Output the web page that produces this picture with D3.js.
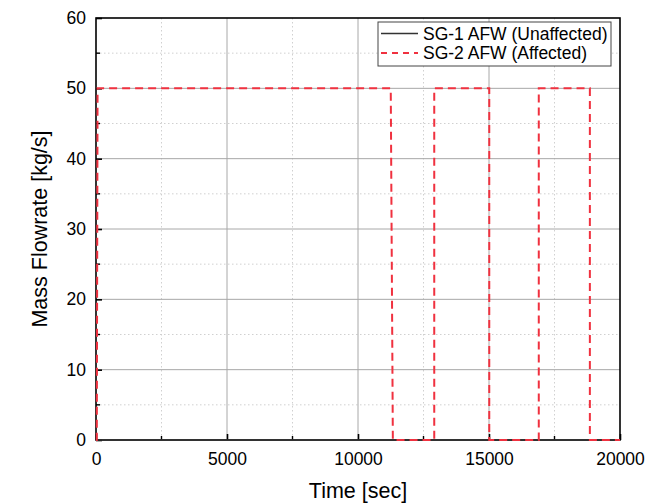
<!DOCTYPE html>
<html>
<head>
<meta charset="utf-8">
<script src="https://cdn.jsdelivr.net/npm/d3@7"></script>
<style>
  body { margin: 0; background: #fff; }
  svg { font-family: "Liberation Sans", Arial, sans-serif; }
</style>
</head>
<body>
<svg id="chart" width="646" height="504"></svg>
<script>
// SG-1 stays at zero (under the axis), SG-2 cycles on/off
const sg1Time = [0, 20000];
const sg1Flow = [0, 0];
const sg2Time = [0, 30, 60, 11250, 11330, 12910, 12910, 15010, 15010, 16900, 16900, 18850, 18850, 20000];
const sg2Flow = [0, 0, 50, 50, 0, 0, 50, 50, 0, 0, 50, 50, 0, 0];
const xTicks = [0, 5000, 10000, 15000, 20000];
const yTicks = [0, 10, 20, 30, 40, 50, 60];
const seriesNames = ['SG-1 AFW (Unaffected)', 'SG-2 AFW (Affected)'];

const svg = d3.select('#chart');
const m = { left: 96, right: 620, top: 18, bottom: 440 };

const x = d3.scaleLinear().domain([0, 20000]).range([m.left, m.right]);
const y = d3.scaleLinear().domain([0, 60]).range([m.bottom, m.top]);

const xMinor = d3.range(2500, 20000, 5000);
const yMinor = d3.range(5, 60, 10);

// minor grid (dotted)
svg.append('g').selectAll('line').data(xMinor).join('line')
  .attr('x1', d => x(d)).attr('x2', d => x(d))
  .attr('y1', m.top).attr('y2', m.bottom)
  .attr('stroke', '#d0d0d0').attr('stroke-dasharray', '1.5,2.5');
svg.append('g').selectAll('line').data(yMinor).join('line')
  .attr('y1', d => y(d)).attr('y2', d => y(d))
  .attr('x1', m.left).attr('x2', m.right)
  .attr('stroke', '#d0d0d0').attr('stroke-dasharray', '1.5,2.5');
// major grid
svg.append('g').selectAll('line').data(xTicks.slice(1, -1)).join('line')
  .attr('x1', d => x(d)).attr('x2', d => x(d))
  .attr('y1', m.top).attr('y2', m.bottom)
  .attr('stroke', '#a8a8a8').attr('stroke-width', 1);
svg.append('g').selectAll('line').data(yTicks.slice(1, -1)).join('line')
  .attr('y1', d => y(d)).attr('y2', d => y(d))
  .attr('x1', m.left).attr('x2', m.right)
  .attr('stroke', '#a8a8a8').attr('stroke-width', 1);

// frame
svg.append('rect')
  .attr('x', m.left).attr('y', m.top)
  .attr('width', m.right - m.left).attr('height', m.bottom - m.top)
  .attr('fill', 'none').attr('stroke', '#000').attr('stroke-width', 1.6);

// axes with inward ticks
const xAxis = svg.append('g')
  .attr('transform', `translate(0,${m.bottom})`)
  .call(d3.axisBottom(x).tickValues(xTicks).tickSize(-6).tickPadding(9).tickFormat(d3.format('d')));
const yAxis = svg.append('g')
  .attr('transform', `translate(${m.left},0)`)
  .call(d3.axisLeft(y).tickValues(yTicks).tickSize(-6).tickPadding(10));
[xAxis, yAxis].forEach(a => {
  a.select('.domain').remove();
  a.selectAll('.tick line').attr('stroke', '#000').attr('stroke-width', 1.6);
  a.selectAll('.tick text').attr('font-size', 17.5).attr('fill', '#000')
    .attr('font-family', '"Liberation Sans", Arial, sans-serif');
});
xAxis.selectAll('.tick text').attr('dy', '0.9em');
svg.append('g').selectAll('line').data(xMinor).join('line')
  .attr('x1', d => x(d)).attr('x2', d => x(d))
  .attr('y1', m.bottom).attr('y2', m.bottom - 4)
  .attr('stroke', '#000').attr('stroke-width', 1.4);
svg.append('g').selectAll('line').data(yMinor).join('line')
  .attr('y1', d => y(d)).attr('y2', d => y(d))
  .attr('x1', m.left).attr('x2', m.left + 4)
  .attr('stroke', '#000').attr('stroke-width', 1.4);

// lines
const line = d3.line().x(d => x(d[0])).y(d => y(d[1]));
svg.append('path')
  .datum(d3.zip(sg1Time, sg1Flow))
  .attr('d', line).attr('fill', 'none')
  .attr('stroke', '#333').attr('stroke-width', 1.5);
svg.append('path')
  .datum(d3.zip(sg2Time, sg2Flow))
  .attr('d', line).attr('fill', 'none')
  .attr('stroke', '#f0313f').attr('stroke-width', 2)
  .attr('stroke-dasharray', '8,5');

// axis titles
svg.append('text')
  .attr('x', (m.left + m.right) / 2).attr('y', 498)
  .attr('text-anchor', 'middle').attr('font-size', 21.5)
  .text('Time [sec]');
svg.append('text')
  .attr('transform', `translate(47,${(m.top + m.bottom) / 2}) rotate(-90)`)
  .attr('text-anchor', 'middle').attr('font-size', 21.5)
  .text('Mass Flowrate [kg/s]');

// legend
const legend = svg.append('g');
legend.append('rect')
  .attr('x', 378).attr('y', 22).attr('width', 233).attr('height', 44)
  .attr('fill', '#fff').attr('stroke', '#444').attr('stroke-width', 1);
const legendStyle = [
  { stroke: '#333', dash: null, w: 1.5 },
  { stroke: '#f0313f', dash: '6,5', w: 2 },
];
seriesNames.forEach((name, i) => {
  const ly = 33.5 + i * 19.5;
  legend.append('line')
    .attr('x1', 381).attr('x2', 418).attr('y1', ly).attr('y2', ly)
    .attr('stroke', legendStyle[i].stroke).attr('stroke-width', legendStyle[i].w)
    .attr('stroke-dasharray', legendStyle[i].dash);
  legend.append('text')
    .attr('x', 423).attr('y', ly).attr('dy', '0.35em')
    .attr('font-size', 17.5).text(name);
});
</script>
</body>
</html>
